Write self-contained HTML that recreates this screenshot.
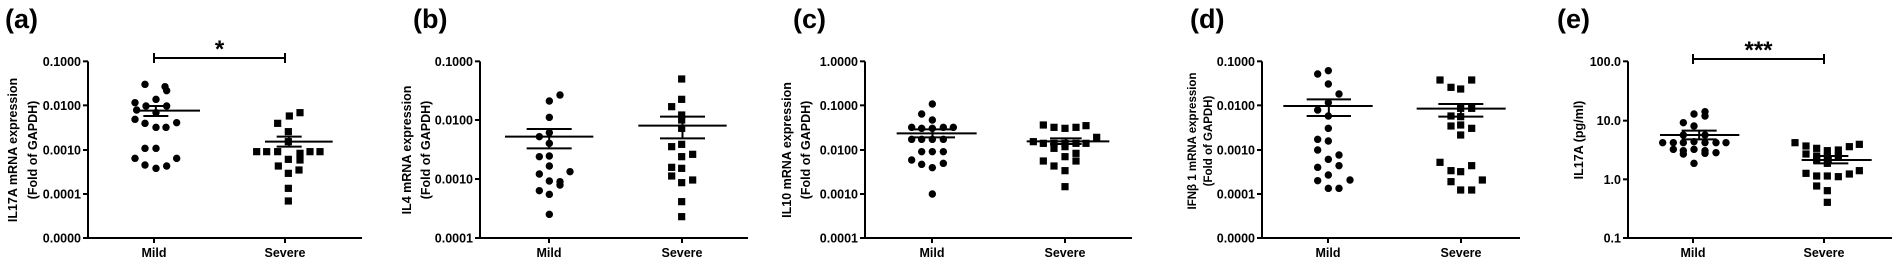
<!DOCTYPE html>
<html><head><meta charset="utf-8"><style>
html,body{margin:0;padding:0;background:#fff;}
svg{display:block;font-family:"Liberation Sans",Arial,sans-serif;font-weight:bold;}
</style></head><body>
<svg id="s" width="1900" height="263" xmlns="http://www.w3.org/2000/svg"></svg>
<script>
var P=[
{off:0,ax:88,xend:362,ticks:[184,316,450,582,714],lab:["0.1000","0.0100","0.0010","0.0001","0.0000"],m:154,sv:285,L:"(a)",lx:5,
 yt:["IL17A mRNA expression","(Fold of GAPDH)"],ytx:[12,32],yty:150,
 mild:[[435,253],[495,260],[500,272],[405,308],[468,298],[500,318],[438,318],[468,338],[410,330],[530,368],[405,358],[435,370],[468,382],[498,382],[435,445],[468,445],[405,475],[530,475],[435,495],[468,505],[500,498]],
 mm:[332,400,600,318,348,430,505],
 sev:[[900,338],[868,348],[833,370],[865,395],[865,425],[833,455],[800,455],[770,455],[900,460],[930,455],[960,455],[835,498],[865,478],[900,480],[865,520],[897,510],[865,565],[865,603]],
 sm:[425,795,998,410,440,830,905],sig:{y:58,t:"*"}},
{off:380,ax:480,xend:748,ticks:[184,360,537,714],lab:["0.1000","0.0100","0.0010","0.0001"],m:549,sv:682,L:"(b)",lx:413,
 yt:["IL4 mRNA expression","(Fold of GAPDH)"],ytx:[406,425],yty:150,
 mild:[[540,285],[508,303],[508,352],[478,410],[508,398],[508,430],[478,470],[508,468],[508,498],[478,522],[570,515],[508,543],[540,545],[540,555],[478,572],[508,583],[508,643]],
 mm:[410,375,640,387,445,440,575],
 sev:[[905,237],[905,298],[875,320],[905,345],[905,385],[905,360],[875,440],[905,433],[905,470],[938,463],[875,502],[905,505],[875,528],[905,548],[938,540],[905,605],[905,650]],
 sm:[377,775,1040,350,415,840,975]},
{off:760,ax:865,xend:1132,ticks:[184,316,450,582,714],lab:["1.0000","0.1000","0.0100","0.0010","0.0001"],m:932,sv:1065,L:"(c)",lx:793,
 yt:["IL10 mRNA expression","(Fold of GAPDH)"],ytx:[786,805],yty:150,
 mild:[[517,312],[485,342],[517,360],[455,382],[485,385],[517,385],[550,382],[580,382],[455,418],[485,418],[517,418],[550,418],[485,455],[517,455],[550,455],[455,480],[485,493],[517,503],[550,490],[517,582]],
 mm:[400,410,650,388,412,450,585],
 sev:[[850,375],[882,382],[915,385],[948,382],[978,377],[1010,412],[820,425],[850,430],[882,430],[915,430],[948,430],[978,430],[882,445],[915,440],[948,460],[915,470],[850,483],[882,498],[948,483],[915,512],[915,560]],
 sm:[424,800,1048,415,432,870,965]},
{off:1140,ax:1262,xend:1520,ticks:[184,316,450,582,714],lab:["0.1000","0.0100","0.0010","0.0001","0.0000"],m:1328,sv:1461,L:"(d)",lx:1190,
 yt:["IFNβ 1 mRNA expression","(Fold of GAPDH)"],ytx:[1191,1207],yty:141,fs:11.5,
 mild:[[565,212],[533,222],[565,252],[597,282],[565,308],[533,330],[565,348],[565,385],[533,418],[565,423],[533,450],[565,478],[597,465],[533,502],[565,525],[597,497],[533,542],[630,540],[565,565],[597,565]],
 mm:[318,430,698,298,348,500,633],
 sev:[[900,240],[933,262],[962,267],[995,240],[962,325],[995,325],[933,348],[962,350],[933,378],[962,375],[995,385],[962,405],[900,487],[933,512],[962,515],[995,497],[933,545],[1027,540],[962,570],[995,570]],
 sm:[326,830,1097,312,350,895,1030]},
{off:1520,ax:1628,xend:1892,ticks:[184,362,538,714],lab:["100.0","10.0","1.0","0.1"],m:1693,sv:1824,L:"(e)",lx:1557,
 yt:["IL17A (pg/ml)"],ytx:[1578],yty:140,
 mild:[[555,335],[522,342],[555,348],[490,368],[522,378],[490,405],[555,405],[428,428],[460,428],[490,428],[522,425],[555,428],[588,428],[618,428],[460,448],[490,452],[522,448],[555,452],[490,462],[555,460],[588,458],[522,490]],
 mm:[405,420,658,392,418,485,590],
 sev:[[825,428],[858,438],[890,445],[922,452],[955,450],[988,440],[1018,433],[858,462],[890,468],[922,470],[955,468],[890,480],[922,490],[858,520],[890,528],[922,528],[955,530],[988,522],[1018,512],[890,558],[922,572],[922,607]],
 sm:[480,845,1055,468,490,880,985],sig:{y:59,t:"***"}}
];
var h="";
function ln(x1,y1,x2,y2,w){h+='<line x1="'+x1+'" y1="'+y1+'" x2="'+x2+'" y2="'+y2+'" stroke="#000" stroke-width="'+(w||2)+'"/>';}
P.forEach(function(p){
 var o=p.off, top=p.ticks[0]/3, bot=238;
 h+='<text x="'+p.lx+'" y="28" font-size="27">'+p.L+'</text>';
 ln(p.ax,top,p.ax,bot+1);
 ln(p.ax-1,bot,p.xend,bot);
 p.ticks.forEach(function(t,i){var y=t/3;ln(p.ax-5,y,p.ax,y);
  h+='<text x="'+(p.ax-7)+'" y="'+(y+4.5)+'" font-size="12.5" text-anchor="end">'+p.lab[i]+'</text>';});
 ln(p.m,bot,p.m,bot+5);ln(p.sv,bot,p.sv,bot+5);
 h+='<text x="'+p.m+'" y="257" font-size="12.5" text-anchor="middle">Mild</text>';
 h+='<text x="'+p.sv+'" y="257" font-size="12.5" text-anchor="middle">Severe</text>';
 p.yt.forEach(function(t,i){var x=p.ytx[i]+5;
  h+='<text transform="translate('+x+','+p.yty+') rotate(-90)" font-size="'+(p.fs||12.5)+'" text-anchor="middle">'+t+'</text>';});
 p.mild.forEach(function(q){h+='<circle cx="'+(o+q[0]/3)+'" cy="'+(q[1]/3)+'" r="3.7" fill="#000"/>';});
 p.sev.forEach(function(q){h+='<rect x="'+(o+q[0]/3-3.6)+'" y="'+(q[1]/3-3.6)+'" width="7.2" height="7.2" fill="#000"/>';});
 [p.mm,p.sm].forEach(function(m){
  ln(o+m[1]/3,m[0]/3,o+m[2]/3,m[0]/3);
  ln(o+m[5]/3,m[3]/3,o+m[6]/3,m[3]/3);
  ln(o+m[5]/3,m[4]/3,o+m[6]/3,m[4]/3);
  var cx=o+(m[5]+m[6])/6;ln(cx,m[3]/3,cx,m[4]/3);
 });
 if(p.sig){var y=p.sig.y;ln(p.m,y,p.sv,y);ln(p.m,y-5,p.m,y+5);ln(p.sv,y-5,p.sv,y+5);
  h+='<text x="'+((p.m+p.sv)/2)+'" y="'+(y-1)+'" font-size="24" text-anchor="middle">'+p.sig.t+'</text>';}
});
document.getElementById("s").innerHTML=h;
</script>
</body></html>
